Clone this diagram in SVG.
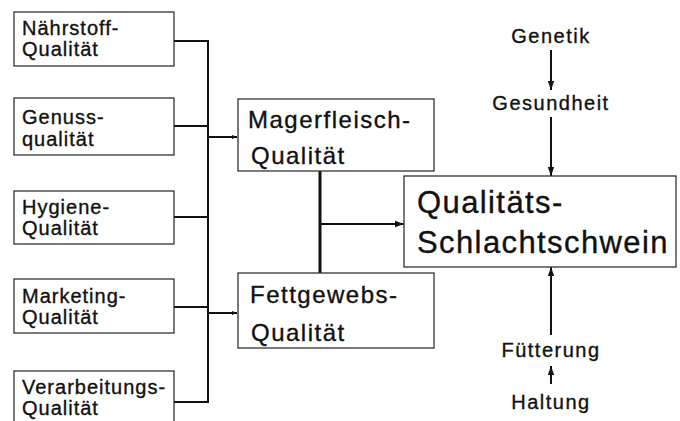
<svg xmlns="http://www.w3.org/2000/svg" width="680" height="421" viewBox="0 0 680 421">
<style>
.box{fill:#fff;stroke:#333;stroke-width:1.3}
.t{font-family:"Liberation Sans",Arial,sans-serif;fill:#111;stroke:#111;stroke-width:0.35}
.s{font-size:20px;letter-spacing:1px}
.m{font-size:24px;letter-spacing:1.5px}
.l{font-size:31px;letter-spacing:1.4px}
.r{font-size:20px;letter-spacing:1.5px;text-anchor:middle}
.c{fill:none;stroke:#111;stroke-width:2}
.c2{fill:none;stroke:#111;stroke-width:3}
</style>
<defs>
<marker id="a" viewBox="0 0 10 10" refX="10" refY="5" markerWidth="5" markerHeight="5" orient="auto" markerUnits="userSpaceOnUse">
<path d="M0,1 L10,5 L0,9 z" fill="#111"/>
</marker>
<marker id="b" viewBox="0 0 10 10" refX="10" refY="5" markerWidth="9" markerHeight="9" orient="auto" markerUnits="userSpaceOnUse">
<path d="M0,1.5 L10,5 L0,8.5 z" fill="#111"/>
</marker>
</defs>
<rect width="680" height="421" fill="#fff"/>
<g id="connectors">
<path class="c" d="M174,41 H208 V402 H174"/>
<path class="c" d="M174,126 H208"/>
<path class="c" d="M174,217 H208"/>
<path class="c" d="M174,307 H208"/>
<path class="c" d="M208,137 H237" marker-end="url(#a)"/>
<path class="c" d="M208,313 H237" marker-end="url(#a)"/>
<path class="c2" d="M320,171 V273"/>
<path class="c" d="M320,224 H404" marker-end="url(#b)"/>
<path class="c" d="M551,50 V90" marker-end="url(#b)"/>
<path class="c" d="M551,117 V176" marker-end="url(#b)"/>
<path class="c" d="M551,335 V267" marker-end="url(#b)"/>
<path class="c" d="M551,384 V366" marker-end="url(#b)"/>
</g>
<g id="n1"><rect class="box" x="14" y="12" width="160" height="54"/><text class="t s" x="22" y="35">Nährstoff-</text><text class="t s" x="22" y="56">Qualität</text></g>
<g id="n2"><rect class="box" x="14" y="98" width="160" height="57"/><text class="t s" x="22" y="124">Genuss-</text><text class="t s" x="22" y="146">qualität</text></g>
<g id="n3"><rect class="box" x="14" y="191" width="160" height="53"/><text class="t s" x="22" y="214">Hygiene-</text><text class="t s" x="22" y="235">Qualität</text></g>
<g id="n4"><rect class="box" x="14" y="279" width="160" height="54"/><text class="t s" x="22" y="303">Marketing-</text><text class="t s" x="22" y="324">Qualität</text></g>
<g id="n5"><rect class="box" x="14" y="371" width="160" height="60"/><text class="t s" x="22" y="394">Verarbeitungs-</text><text class="t s" x="22" y="415">Qualität</text></g>
<g id="mager"><rect class="box" x="238" y="99" width="196" height="72"/><text class="t m" x="248" y="128">Magerfleisch-</text><text class="t m" x="251" y="164">Qualität</text></g>
<g id="fett"><rect class="box" x="238" y="273" width="196" height="75"/><text class="t m" x="250" y="303">Fettgewebs-</text><text class="t m" x="251" y="341">Qualität</text></g>
<g id="main"><rect class="box" x="404" y="176" width="272" height="91"/><text class="t l" x="417" y="213">Qualitäts-</text><text class="t l" x="417" y="253">Schlachtschwein</text></g>
<g id="genetik"><text class="t r" x="551" y="43">Genetik</text></g>
<g id="gesundheit"><text class="t r" x="551" y="110">Gesundheit</text></g>
<g id="fuetterung"><text class="t r" x="551" y="357">Fütterung</text></g>
<g id="haltung"><text class="t r" x="551" y="409">Haltung</text></g>
</svg>
